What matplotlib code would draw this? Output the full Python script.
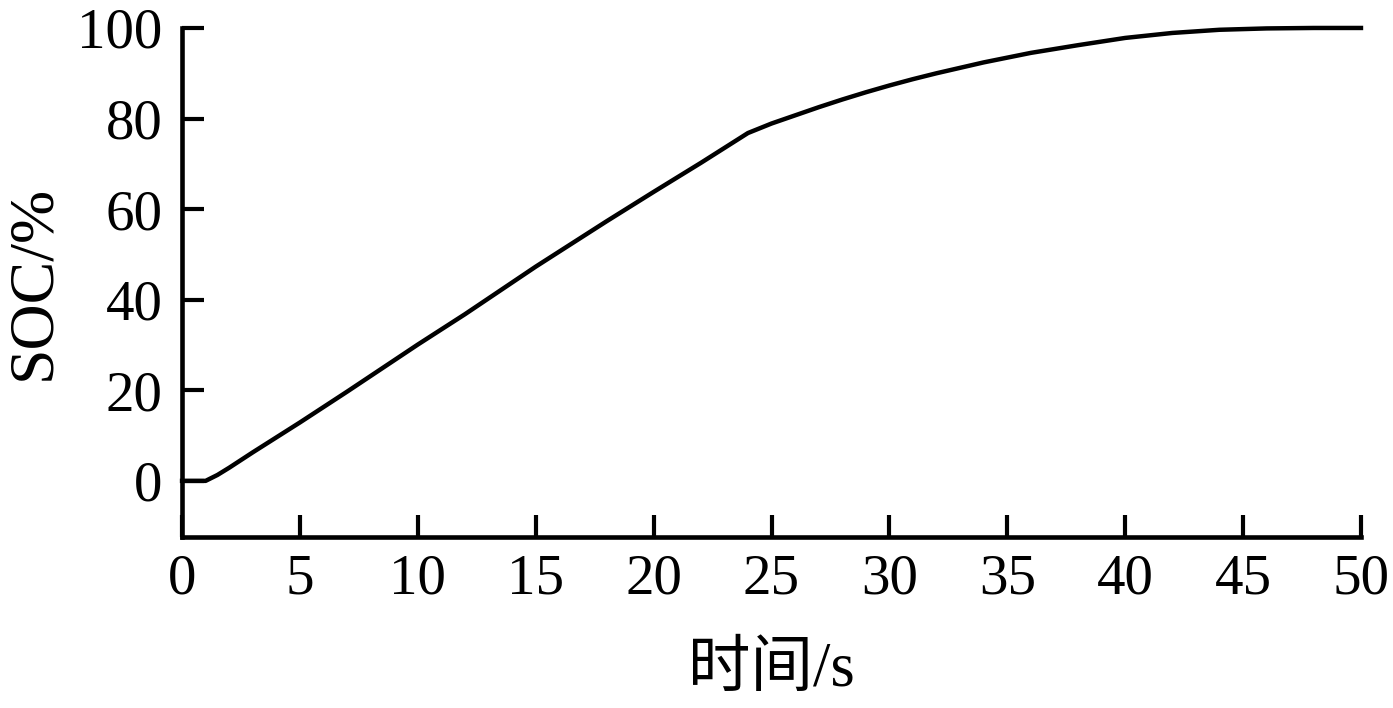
import matplotlib
matplotlib.use("Agg")
import matplotlib.pyplot as plt

# font list: serif digits first, CJK fallback for the Chinese label
plt.rcParams['font.family'] = ['Liberation Serif', 'Noto Sans CJK SC']

# SOC curve
time_s = [0, 1, 1.5, 2, 3, 5, 7, 10, 12, 15, 18, 20, 22, 23, 24, 25, 26, 27,
          28, 29, 30, 31, 32, 34, 36, 38, 40, 42, 44, 46, 48, 50]
soc_pct = [0, 0, 1.3, 2.9, 6.3, 12.9, 19.7, 30.1, 36.8, 47.3, 57.3, 63.8,
           70.2, 73.5, 76.8, 78.9, 80.7, 82.5, 84.2, 85.8, 87.3, 88.7, 90.0,
           92.4, 94.5, 96.2, 97.8, 98.9, 99.6, 99.9, 100, 100]

x_ticks = [0, 5, 10, 15, 20, 25, 30, 35, 40, 45, 50]
y_ticks = [0, 20, 40, 60, 80, 100]

fig = plt.figure(figsize=(13.93, 7.08), dpi=100)
ax = fig.add_axes([0.1307, 0.2415, 0.8463, 0.719])

ax.plot(time_s, soc_pct, color='black', linewidth=3.2, clip_on=False,
        solid_joinstyle='round')

ax.set_xlim(0, 50)
ax.set_ylim(-12.4, 100)
ax.set_xticks(x_ticks)
ax.set_yticks(y_ticks)

for side in ['top', 'right']:
    ax.spines[side].set_visible(False)
for side in ['left', 'bottom']:
    ax.spines[side].set_linewidth(3.3)

ax.tick_params(axis='both', direction='in', length=16, width=3.0,
               labelsize=41)
ax.tick_params(axis='x', pad=12)
ax.tick_params(axis='y', pad=14)

ax.set_xlabel('时间/s', fontsize=45, labelpad=26)
ax.set_ylabel('SOC/%', fontsize=46, labelpad=10)

fig.savefig('out.png', dpi=100)
